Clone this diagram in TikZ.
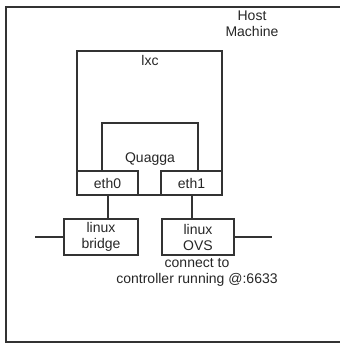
\documentclass[tikz,border=0pt]{standalone}
\usepackage{fontspec}
\setmainfont{Liberation Sans}
\begin{document}
\begin{tikzpicture}[x=1pt,y=1pt,
  ln/.style={draw=black!80,line width=2pt},
  lbl/.style={font=\fontsize{14}{16}\selectfont,text=black!85,inner sep=0pt,align=center},
  boxn/.style={ln,minimum width=#1,inner sep=0pt,font=\fontsize{14}{16}\selectfont,text=black!85,align=center},
]
\useasboundingbox (0,0) rectangle (339,344);
% host machine frame
\draw[ln] (340,337) -- (5.5,337) -- (5.5,2) -- (340,2);
\node[lbl] (host) at (252,320.5) {Host\\Machine};
% lxc container
\node[ln,minimum width=145pt,minimum height=144pt,inner sep=0pt] (lxc) at (149.5,221) {};
\node[lbl] (lxcl) at (150,283) {lxc};
% quagga (open at bottom)
\draw[ln] (102,173) -- (102,221) -- (198,221) -- (198,173);
\node[lbl] (quagga) at (150,185) {Quagga};
% interfaces
\node[boxn=61pt,minimum height=24pt] (eth0) at (107.5,161) {eth0};
\node[boxn=61pt,minimum height=24pt] (eth1) at (191.5,161) {eth1};
% bridges
\node[boxn=74pt,minimum height=36pt] (br) at (101,107) {linux\\bridge};
\node[boxn=72pt,minimum height=36pt] (ovs) at (198,107) {linux\\OVS};
\draw[ln] (eth0.south) -- (eth0.south |- br.north);
\draw[ln] (eth1.south) -- (eth1.south |- ovs.north);
\coordinate (lend) at (35,107);
\coordinate (rend) at (272,107);
\draw[ln] (lend) -- (br.west);
\draw[ln] (ovs.east) -- (rend);
\node[lbl] (ctl) at (197,72) {connect to\\controller running @:6633};
\end{tikzpicture}
\end{document}
